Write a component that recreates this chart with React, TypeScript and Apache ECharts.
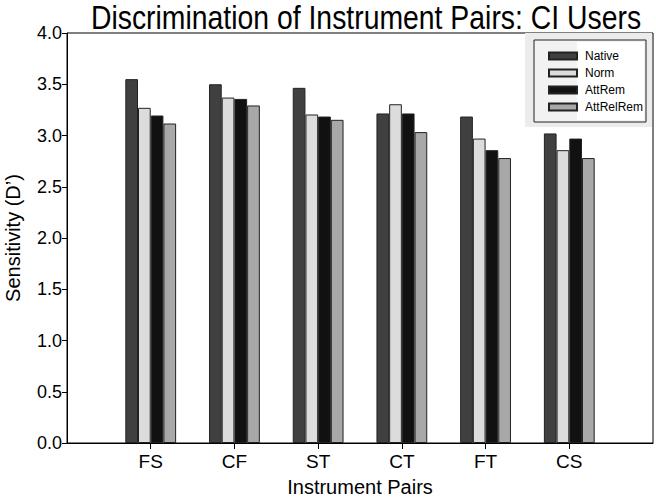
import React, { useEffect, useRef } from "react";
import * as echarts from "echarts";

const categories = ["", "FS", "CF", "ST", "CT", "FT", "CS", ""];
const seriesNames = ["Native", "Norm", "AttRem", "AttRelRem"];
const nativeVals = [null, 3.55, 3.5, 3.465, 3.215, 3.185, 3.02, null];
const normVals = [null, 3.27, 3.37, 3.205, 3.305, 2.97, 2.857, null];
const attRemVals = [null, 3.195, 3.357, 3.185, 3.215, 2.857, 2.97, null];
const attRelRemVals = [null, 3.117, 3.293, 3.153, 3.033, 2.78, 2.78, null];
const yTicks = { min: 0, max: 4, interval: 0.5 };
const colors = ["#404040", "#dcdcdc", "#111111", "#a8a8a8"];
const titleText = "Discrimination of Instrument Pairs: CI Users";

const FONT = "'Liberation Sans', Arial, sans-serif";

export default function App() {
  const ref = useRef<HTMLDivElement>(null);
  useEffect(() => {
    if (!ref.current) return;
    const chart = echarts.init(ref.current, null, { renderer: "svg" });
    const values = [nativeVals, normVals, attRemVals, attRelRemVals];
    chart.setOption({
      animation: false,
      backgroundColor: "#ffffff",
      textStyle: { fontFamily: FONT, color: "#000" },
      grid: {
        left: 67,
        top: 33,
        right: 3,
        bottom: 56,
        show: true,
        borderColor: "#000",
        borderWidth: 1,
        backgroundColor: "transparent",
        outerBoundsMode: "none",
        containLabel: false,
      },
      graphic: [
        {
          type: "text",
          x: 366,
          y: 18,
          scaleX: 0.86,
          z: 5,
          style: {
            text: titleText,
            x: 0,
            y: 0,
            align: "center",
            verticalAlign: "middle",
            fontFamily: FONT,
            fontSize: 33,
            fill: "#000",
          },
        },
        { type: "rect", z: 0, shape: { x: 525, y: 33, width: 127, height: 94 }, style: { fill: "#ececec" } },
        { type: "rect", z: 1, shape: { x: 534, y: 40, width: 112, height: 82 }, style: { fill: "#f2f2f2", stroke: "#222", lineWidth: 1 } },
        { type: "rect", z: 2, shape: { x: 577, y: 42, width: 67, height: 78 }, style: { fill: "#ffffff" } },
      ],
      legend: {
        orient: "vertical",
        left: 543,
        top: 45,
        z: 10,
        itemWidth: 28,
        itemHeight: 7,
        itemGap: 5,
        icon: "rect",
        data: seriesNames,
        textStyle: { fontFamily: FONT, fontSize: 12, color: "#000", padding: [0, 0, 0, 3] },
      },
      xAxis: {
        type: "category",
        data: categories,
        boundaryGap: false,
        name: "Instrument Pairs",
        nameLocation: "middle",
        nameGap: 34,
        nameTextStyle: { fontFamily: FONT, fontSize: 20, color: "#000" },
        axisLine: { lineStyle: { color: "#000", width: 1 } },
        axisTick: {
          show: true,
          length: 6,
          inside: false,
          lineStyle: { color: "#000" },
          interval: (i: number) => i > 0 && i < categories.length - 1,
        },
        axisLabel: { fontFamily: FONT, fontSize: 19, color: "#000", margin: 9, interval: 0 },
        splitLine: { show: false },
      },
      yAxis: {
        type: "value",
        min: yTicks.min,
        max: yTicks.max,
        interval: yTicks.interval,
        name: "Sensitivity (D\u2019)",
        nameLocation: "middle",
        nameGap: 44,
        nameTextStyle: { fontFamily: FONT, fontSize: 20, color: "#000" },
        axisLine: { show: true, lineStyle: { color: "#000", width: 1 } },
        axisTick: { show: true, length: 5, inside: false, lineStyle: { color: "#000" } },
        axisLabel: {
          fontFamily: FONT,
          fontSize: 18,
          color: "#000",
          margin: 5,
          formatter: (v: number) => v.toFixed(1),
        },
        splitLine: { show: false },
      },
      series: seriesNames.map((name, i) => ({
        name,
        type: "bar",
        data: values[i],
        barWidth: 12.7,
        barGap: "0%",
        itemStyle: { color: colors[i], borderColor: "#222", borderWidth: 1 },
      })),
    });
    return () => chart.dispose();
  }, []);
  return <div ref={ref} style={{ position: "fixed", left: 0, top: 0, width: 656, height: 499 }} />;
}
